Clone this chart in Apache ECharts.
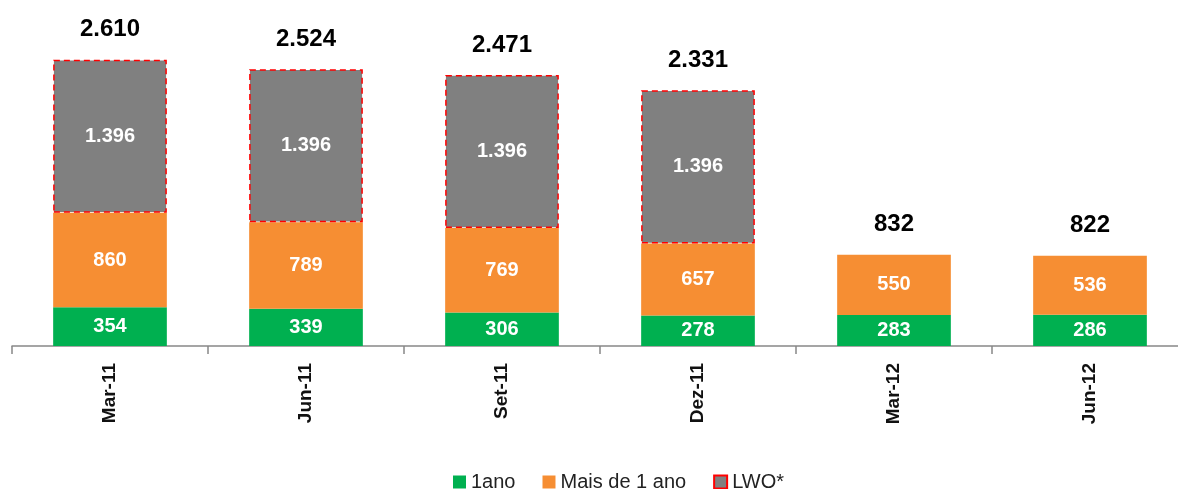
<!DOCTYPE html>
<html>
<head>
<meta charset="utf-8">
<script src="https://cdn.jsdelivr.net/npm/echarts@6/dist/echarts.min.js"></script>
<style>
  html, body { margin: 0; padding: 0; background: #fff; }
  #main { width: 1178px; height: 489px; }
</style>
</head>
<body>
<div id="main"></div>
<script>
// dados
var categories = ['Mar-11', 'Jun-11', 'Set-11', 'Dez-11', 'Mar-12', 'Jun-12'];
var umAno = [354, 339, 306, 278, 283, 286];
var maisDeUmAno = [860, 789, 769, 657, 550, 536];
var lwo = [1396, 1396, 1396, 1396, '-', '-'];
var totais = [2610, 2524, 2471, 2331, 832, 822];

var fmt = function (v) {
    return String(v).replace(/\B(?=(\d{3})+(?!\d))/g, '.');
};

var font = 'Liberation Sans, Arial, sans-serif';
var insideLabel = {
    show: true,
    position: 'inside',
    color: '#fff',
    fontWeight: 'bold',
    fontSize: 20,
    fontFamily: font,
    formatter: function (p) { return fmt(p.value); }
};

var chart = echarts.init(document.getElementById('main'));
chart.setOption({
    animation: false,
    textStyle: {fontFamily: font},
    grid: {
        left: 12,
        width: 1176,
        top: 17,
        bottom: 143,
        containLabel: false,
        outerBoundsMode: 'none'
    },
    legend: {
        bottom: -8,
        left: 448,
        itemWidth: 13,
        itemHeight: 13,
        itemGap: 27,
        textStyle: {fontSize: 20, color: '#222', fontFamily: font},
        data: [
            {name: '1ano', icon: 'rect'},
            {name: 'Mais de 1 ano', icon: 'rect'},
            {name: 'LWO*', icon: 'rect'}
        ]
    },
    xAxis: {
        type: 'category',
        data: categories,
        axisLine: {lineStyle: {color: '#888', width: 1.5}},
        axisTick: {show: true, length: 8, lineStyle: {color: '#888', width: 1.5}},
        axisLabel: {
            rotate: 90,
            color: '#111',
            fontSize: 19,
            fontWeight: 'bold',
            fontFamily: font,
            margin: 17
        }
    },
    yAxis: {
        type: 'value',
        min: 0,
        max: 3000,
        show: false
    },
    series: [
        {
            name: '1ano',
            type: 'bar',
            stack: 'total',
            barCategoryGap: '42%',
            itemStyle: {color: '#00b050'},
            label: insideLabel,
            data: umAno
        },
        {
            name: 'Mais de 1 ano',
            type: 'bar',
            stack: 'total',
            itemStyle: {color: '#f68e33'},
            label: insideLabel,
            data: maisDeUmAno
        },
        {
            name: 'LWO*',
            type: 'bar',
            stack: 'total',
            itemStyle: {
                color: '#808080',
                borderColor: '#ff0000',
                borderWidth: 1.5,
                borderType: [6, 4]
            },
            label: insideLabel,
            data: lwo
        },
        {
            name: 'total',
            type: 'scatter',
            symbolSize: 0,
            silent: true,
            itemStyle: {opacity: 1},
            label: {
                show: true,
                position: 'top',
                distance: 18,
                color: '#000',
                opacity: 1,
                fontWeight: 'bold',
                fontSize: 24,
                fontFamily: font,
                formatter: function (p) { return fmt(p.value); }
            },
            data: totais
        }
    ]
});
</script>
</body>
</html>
